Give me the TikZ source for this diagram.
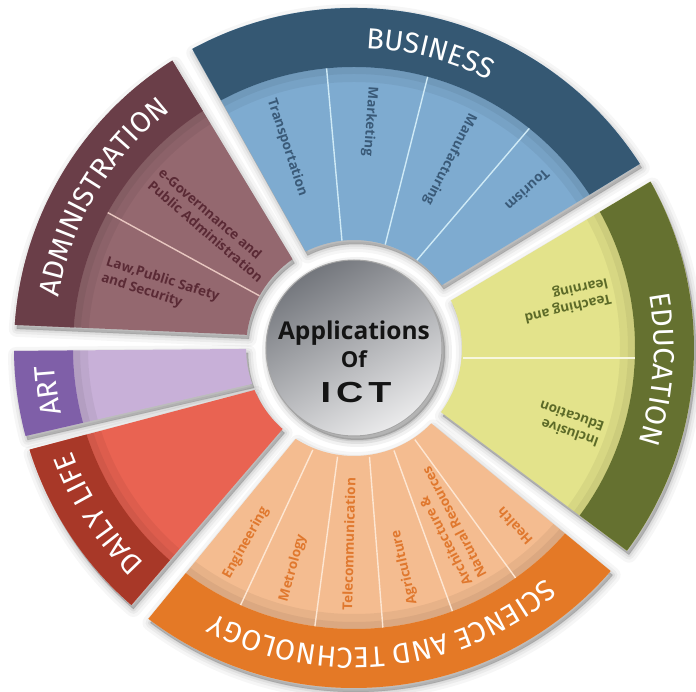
\documentclass[tikz,border=0pt]{standalone}
\usepackage{fontspec}
\usetikzlibrary{decorations.text}
\newfontfamily\bandfam{Fira Sans}
\newfontfamily\labfam{Open Sans}
\newfontfamily\ctrfam{Open Sans}
\newfontfamily\ictfam{Liberation Sans}[FakeStretch=1.3]

\definecolor{busDark}{HTML}{355873}
\definecolor{busLight}{HTML}{7EABD0}
\definecolor{busLine}{HTML}{CFEAF6}
\definecolor{busText}{HTML}{3A5A78}
\definecolor{admDark}{HTML}{6A3E48}
\definecolor{admLight}{HTML}{94686F}
\definecolor{admLine}{HTML}{E8C6C0}
\definecolor{admText}{HTML}{5A2A35}
\definecolor{artDark}{HTML}{7F5FA8}
\definecolor{artLight}{HTML}{C8B0D8}
\definecolor{dayDark}{HTML}{A83828}
\definecolor{dayLight}{HTML}{E96352}
\definecolor{sciDark}{HTML}{E47926}
\definecolor{sciLight}{HTML}{F4BC90}
\definecolor{sciLine}{HTML}{FDE6D2}
\definecolor{sciText}{HTML}{E0782E}
\definecolor{eduDark}{HTML}{657130}
\definecolor{eduLight}{HTML}{E3E38B}
\definecolor{eduLine}{HTML}{F7F7DE}
\definecolor{eduText}{HTML}{5C6A28}
\definecolor{diskTop}{HTML}{74777D}
\definecolor{diskBot}{HTML}{EAEAEB}

\pgfdeclareradialshading{ringshade}{\pgfpoint{0bp}{0bp}}{color(0bp)=(white); color(39bp)=(white); color(45bp)=(black!10); color(50bp)=(black!30)}

% outer angle a, inner angle a, outer angle b, inner angle b
\newcommand\SecShadow[4]{%
  \foreach \w/\o in {16pt/0.035,10pt/0.045,5pt/0.06,1pt/0.08}{%
    \filldraw[black, opacity=\o, line width=\w, line join=round, shift={(2pt,-4pt)}]
      (#2:108pt) -- (#1:340pt) arc[start angle=#1, end angle=#3, radius=340pt]
      -- (#4:108pt) arc[start angle=#4, end angle=#2, radius=108pt] -- cycle;}}
\newcommand\SecBody[6]{%
  \begin{scope}
    \clip (#2:108pt) -- (#1:340pt) arc[start angle=#1, end angle=#3, radius=340pt]
      -- (#4:108pt) arc[start angle=#4, end angle=#2, radius=108pt] -- cycle;
    \fill[#5] (0,0) circle (345pt);
    \fill[black, opacity=0.05, even odd rule] (0,0) circle (281pt) (0,0) circle (266pt);
    \fill[black, opacity=0.05, even odd rule] (0,0) circle (281pt) (0,0) circle (274pt);
    \fill[#6, even odd rule] (0,0) circle (345pt) (0,0) circle (281pt);
  \end{scope}}
% start angle, end angle (clockwise), text
\newcommand\BandTitle[3]{%
  \path[decorate, decoration={text along path, text align=center, text color=white,
    text={|\bandfam\fontsize{29pt}{29pt}\selectfont|#3}}]
    (#1:300pt) arc[start angle=#1, end angle=#2, radius=300pt];}

\begin{document}
\begin{tikzpicture}[
  lab/.style={anchor=west, align=left, inner sep=0pt,
    font=\labfam\bfseries\fontsize{13.5pt}{16.5pt}\selectfont},
  divline/.style={line width=1.4pt}
]
\useasboundingbox (-354pt,-344pt) rectangle (342pt,348pt);

% ring around the centre
\shade[shading=ringshade] (0,0) circle (114pt);

% shadows of the sectors
\SecShadow{-36.6}{-36.4}{29.3}{26.1}
\SecShadow{32.8}{35.6}{118.4}{116.6}
\SecShadow{122.3}{124.7}{176.1}{173}
\SecShadow{180.5}{180.5}{195}{199.4}
\SecShadow{197.4}{202.9}{229.1}{228.6}
\SecShadow{232.8}{237.3}{319}{315.7}

% sectors
\SecBody{-36.6}{-36.4}{29.3}{26.1}{eduLight}{eduDark}
\SecBody{32.8}{35.6}{118.4}{116.6}{busLight}{busDark}
\SecBody{122.3}{124.7}{176.1}{173}{admLight}{admDark}
\SecBody{180.5}{180.5}{195}{199.4}{artLight}{artDark}
\SecBody{197.4}{202.9}{229.1}{228.6}{dayLight}{dayDark}
\SecBody{232.8}{237.3}{319}{315.7}{sciLight}{sciDark}

% dividers
\draw[divline, busLine] (54.4:108pt) -- (51.4:281pt);
\draw[divline, busLine] (73.2:108pt) -- (74.8:281pt);
\draw[divline, busLine] (96.4:108pt) -- (95.6:281pt);
\draw[divline, admLine] (151.1:108pt) -- (151.2:281pt);
\draw[divline, eduLine] (109pt,-10pt) -- (281pt,-10pt);
\draw[divline, sciLine] (248:110pt) -- (246.2:281pt);
\draw[divline, sciLine] (261.4:110pt) -- (262:281pt);
\draw[divline, sciLine] (278.1:110pt) -- (275.9:281pt);
\draw[divline, sciLine] (291.3:110pt) -- (290.5:281pt);
\draw[divline, sciLine] (303.6:110pt) -- (305.1:281pt);

% band titles
\BandTitle{118}{33}{BUSINESS}
\BandTitle{176}{122}{ADMINISTRATION}
\BandTitle{195.5}{180.5}{ART}
\BandTitle{229}{197}{DAILY LIFE}
\BandTitle{319}{233}{SCIENCE AND TECHNOLOGY}
\BandTitle{29}{-37}{EDUCATION}

% sub labels
\node[lab, text=busText, rotate=288.5] (l1) at (108.5:262pt) {Transportation};
\node[lab, text=busText, rotate=266] (l2) at (86:262pt) {Marketing};
\node[lab, text=busText, rotate=243.1] (l3) at (63.1:262pt) {Manufacturing};
\node[lab, text=busText, rotate=222.3] (l4) at (42.3:262pt) {Tourism};
\node[lab, text=admText, rotate=319.3] (l5) at (139.3:262pt) {e-Governnance and\\Public Administration};
\node[lab, text=admText, rotate=342.7] (l6) at (162.7:262pt) {Law,Public Safety\\and Security};
\node[lab, text=eduText, rotate=192.9] (l7) at (12.9:262pt) {Teaching and\\learning};
\node[lab, text=eduText, rotate=160.5] (l8) at (-19.5:262pt) {Inclusive\\Education};
\node[lab, text=sciText, rotate=61] (l9) at (241:263pt) {Engineering};
\node[lab, text=sciText, rotate=74.5] (l10) at (254.5:263pt) {Metrology};
\node[lab, text=sciText, rotate=88.5] (l11) at (268.5:263pt) {Telecommunication};
\node[lab, text=sciText, rotate=103] (l12) at (283:263pt) {Agriculture};
\node[lab, text=sciText, rotate=117.5] (l13) at (297.5:263pt) {Architecture \&\\Natural Resources};
\node[lab, text=sciText, rotate=132] (l14) at (312:263pt) {Health};

% central disk
\foreach \w/\o in {14pt/0.05,8pt/0.07,3pt/0.09}{%
  \filldraw[black, opacity=\o, line width=\w] (3pt,-4pt) circle (88pt);}
\shade[top color=diskTop, bottom color=diskBot, shading angle=30] (0,0) circle (88pt);
\draw[black!35, line width=1pt] (0,0) circle (88pt);

\node[anchor=base, inner sep=0pt, text=black!92, font=\ctrfam\bfseries\fontsize{24.5pt}{26pt}\selectfont] (app) at (0pt,8pt) {Applications};
\node[anchor=base, inner sep=0pt, text=black!92, font=\ctrfam\bfseries\fontsize{22pt}{24pt}\selectfont] (of) at (0pt,-20pt) {Of};
\node[anchor=base, inner sep=0pt, text=black!92, font=\ictfam\bfseries\fontsize{29pt}{30pt}\selectfont] (ict) at (2pt,-54.7pt) {I\hspace{5pt}C\hspace{5pt}T};
\end{tikzpicture}
\end{document}
